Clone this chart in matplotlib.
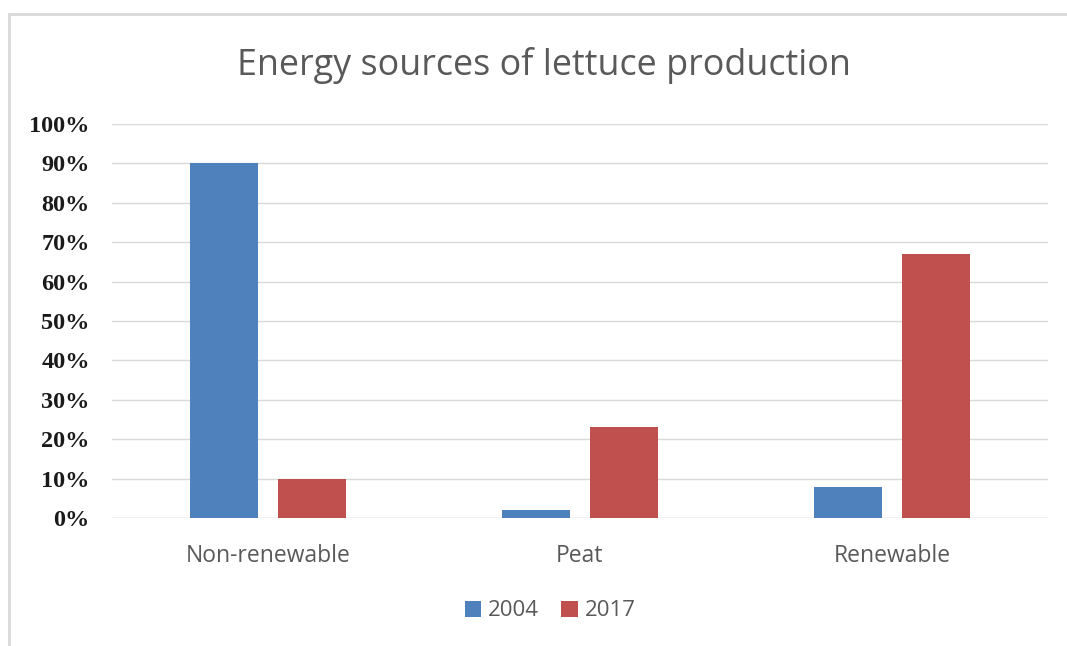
import matplotlib.pyplot as plt
import numpy as np
from matplotlib.patches import Rectangle

# --- Données ---
categories = ["Non-renewable", "Peat", "Renewable"]
series_names = ["2004", "2017"]
values_2004 = [90, 2, 8]
values_2017 = [10, 23, 67]
y_ticks = [0, 10, 20, 30, 40, 50, 60, 70, 80, 90, 100]

col_2004 = "#4F81BD"
col_2017 = "#C0504D"
gris = "#595959"

fig = plt.figure(figsize=(10.67, 6.46), dpi=100)
ax = fig.add_axes([0.105, 0.198, 0.877, 0.610])

# cadre du graphique (gauche et haut visibles)
fig.patches.append(Rectangle((9 / 1067, -0.1), 1.2, (646 - 14) / 646 + 0.1,
                             transform=fig.transFigure, fill=False,
                             edgecolor="#D9D9D9", linewidth=2))

x = np.arange(len(categories))
largeur = 0.218
ecart = 0.141
ax.bar(x - ecart, values_2004, largeur, color=col_2004, label=series_names[0], zorder=3)
ax.bar(x + ecart, values_2017, largeur, color=col_2017, label=series_names[1], zorder=3)

ax.set_xlim(-0.5, len(categories) - 0.5)
ax.set_ylim(0, 100)
ax.set_yticks(y_ticks)
ax.set_yticklabels([f"{v}%" for v in y_ticks], fontfamily="Liberation Serif",
                   fontweight="bold", fontsize=17.5, color="#1a1a1a")
ax.set_xticks(x)
ax.set_xticklabels(categories, fontfamily="Open Sans", fontsize=16.5, color=gris)
ax.tick_params(axis="both", length=0)
ax.tick_params(axis="x", pad=19)
ax.tick_params(axis="y", pad=16)
ax.yaxis.grid(True, color="#D9D9D9", linewidth=1, zorder=0)
for s in ax.spines.values():
    s.set_visible(False)
ax.axhline(0, color="#D9D9D9", linewidth=1, zorder=2)

fig.text(0.510, 1 - 66 / 646, "Energy sources of lettuce production", ha="center", va="center",
         fontfamily="Open Sans", fontsize=25.8, color=gris)

leg = ax.legend(loc="center", bbox_to_anchor=(550 / 1067, 1 - 611 / 646),
                bbox_transform=fig.transFigure, ncol=2, frameon=False,
                handlelength=0.75, handleheight=0.75, handletextpad=0.3,
                columnspacing=1.0, prop={"family": "Open Sans", "size": 16})
for t in leg.get_texts():
    t.set_color(gris)

plt.savefig("out.png", dpi=100)
